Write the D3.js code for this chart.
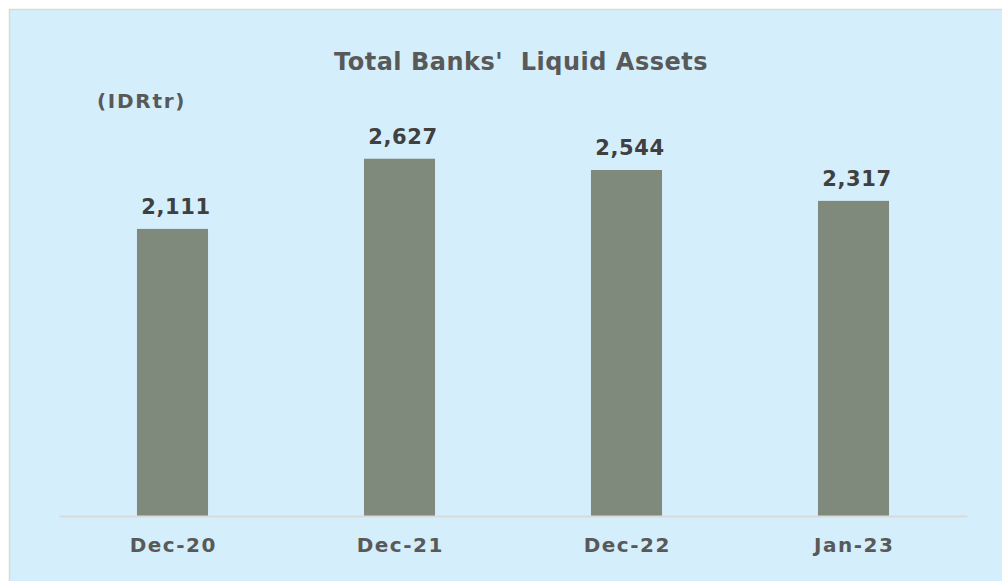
<!DOCTYPE html>
<html>
<head>
<meta charset="utf-8">
<script src="https://cdn.jsdelivr.net/npm/d3@7"></script>
<style>
  body { margin: 0; background: #fff; }
</style>
</head>
<body>
<div id="chart"></div>
<script>
const categories = ["Dec-20", "Dec-21", "Dec-22", "Jan-23"];
const values = [2111, 2627, 2544, 2317];

const W = 1002, H = 581;
const baseY = 516;
const font = "'DejaVu Sans', Verdana, sans-serif";

const svg = d3.select("#chart")
  .append("svg")
  .attr("width", W)
  .attr("height", H)
  .style("font-family", font);

// panel
svg.append("rect")
  .attr("x", 9.5)
  .attr("y", 9.5)
  .attr("width", W)
  .attr("height", H)
  .attr("fill", "#d4effb")
  .attr("stroke", "#d9d9d9")
  .attr("stroke-width", 1.5);

const x = d3.scaleBand()
  .domain(categories)
  .range([59, 967])
  .paddingInner(0.687)
  .paddingOuter(0.3435);

const y = d3.scaleLinear()
  .domain([0, 3000])
  .range([baseY, baseY - 408]);

svg.selectAll("rect.bar")
  .data(values)
  .enter()
  .append("rect")
  .attr("class", "bar")
  .attr("x", (d, i) => x(categories[i]))
  .attr("y", d => y(d))
  .attr("width", x.bandwidth())
  .attr("height", d => y(0) - y(d))
  .attr("fill", "#7f8a7c");

// axis
const axis = svg.append("g")
  .attr("transform", `translate(0,${baseY})`)
  .call(d3.axisBottom(x).tickSize(0).tickPadding(0))
  .attr("font-family", font);
axis.select(".domain").attr("stroke", "#d9d9d9").attr("stroke-width", 2);
axis.selectAll("text")
  .attr("y", 36)
  .attr("dy", null)
  .attr("dx", "0.75px")
  .style("font-size", "20px")
  .style("font-weight", "bold")
  .style("letter-spacing", "1.5px")
  .attr("fill", "#595959");

svg.selectAll("text.val")
  .data(values)
  .enter()
  .append("text")
  .attr("class", "val")
  .attr("x", (d, i) => x(categories[i]) + x.bandwidth() / 2 + 3.5)
  .attr("y", d => y(d) - 15)
  .attr("text-anchor", "middle")
  .style("font-size", "21px")
  .style("font-weight", "bold")
  .style("letter-spacing", "0.6px")
  .attr("fill", "#404040")
  .text(d => d3.format(",")(d));

svg.append("text")
  .attr("x", 521)
  .attr("y", 70)
  .attr("text-anchor", "middle")
  .style("font-size", "24px")
  .style("font-weight", "bold")
  .style("letter-spacing", "0.5px")
  .attr("fill", "#595959")
  .attr("xml:space", "preserve")
  .text("Total Banks'  Liquid Assets");

svg.append("text")
  .attr("x", 97)
  .attr("y", 108)
  .style("font-size", "20px")
  .style("font-weight", "bold")
  .style("letter-spacing", "1.7px")
  .attr("fill", "#595959")
  .text("(IDRtr)");
</script>
</body>
</html>
